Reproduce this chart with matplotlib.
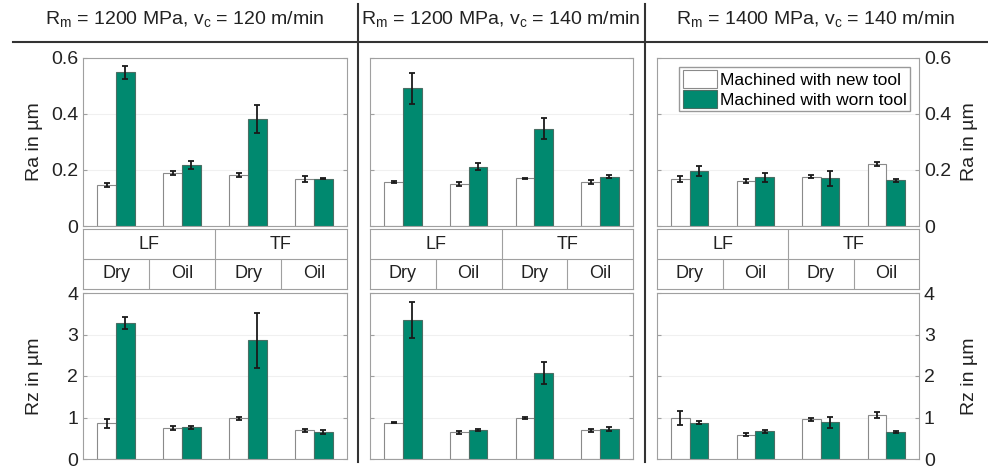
import numpy as np
import matplotlib.pyplot as plt

plt.rcParams['font.family'] = ['Liberation Sans', 'DejaVu Sans']
plt.rcParams['mathtext.fontset'] = 'custom'
plt.rcParams['mathtext.rm'] = 'Liberation Sans'

# data
titles = [r'R$_\mathrm{m}$ = 1200 MPa, v$_\mathrm{c}$ = 120 m/min',
          r'R$_\mathrm{m}$ = 1200 MPa, v$_\mathrm{c}$ = 140 m/min',
          r'R$_\mathrm{m}$ = 1400 MPa, v$_\mathrm{c}$ = 140 m/min']
feeds = ['LF', 'TF']
lubes = ['Dry', 'Oil', 'Dry', 'Oil']

ra_new = [[0.145, 0.188, 0.183, 0.168],
          [0.157, 0.150, 0.171, 0.158],
          [0.167, 0.160, 0.176, 0.221]]
ra_new_err = [[0.007, 0.007, 0.008, 0.010],
              [0.005, 0.008, 0.002, 0.007],
              [0.010, 0.008, 0.005, 0.007]]
ra_worn = [[0.549, 0.218, 0.382, 0.169],
           [0.492, 0.212, 0.348, 0.176],
           [0.196, 0.174, 0.170, 0.163]]
ra_worn_err = [[0.024, 0.015, 0.050, 0.002],
               [0.056, 0.013, 0.038, 0.006],
               [0.019, 0.017, 0.026, 0.005]]

rz_new = [[0.864, 0.744, 0.976, 0.688],
          [0.872, 0.640, 0.984, 0.688],
          [0.992, 0.584, 0.960, 1.056]]
rz_new_err = [[0.108, 0.050, 0.040, 0.040],
              [0.010, 0.040, 0.020, 0.040],
              [0.164, 0.040, 0.040, 0.070]]
rz_worn = [[3.280, 0.768, 2.856, 0.648],
           [3.344, 0.696, 2.072, 0.728],
           [0.872, 0.664, 0.880, 0.656]]
rz_worn_err = [[0.136, 0.035, 0.652, 0.040],
               [0.428, 0.030, 0.276, 0.050],
               [0.040, 0.040, 0.128, 0.030]]

green = '#00896f'
grey = '#a0a0a0'

W, H = 988, 468
fig = plt.figure(figsize=(W / 100, H / 100), dpi=100)


def box(x0, y0, x1, y1):
    return [x0 / W, 1 - y1 / H, (x1 - x0) / W, (y1 - y0) / H]


cols = [(83, 347), (370, 633), (657, 919)]
centers = [185, 501, 816]
x = np.arange(1, 5)
w = 0.285
ekw = dict(elinewidth=1.3, capthick=1.3, ecolor='#1a1a1a')


def style(ax, i, ticks, lim, label):
    ax.set_xlim(0.5, 4.5)
    ax.set_ylim(*lim)
    ax.set_xticks([])
    ax.set_yticks(ticks)
    ax.set_yticklabels([('%g' % t) for t in ticks])
    for s in ax.spines.values():
        s.set_color(grey)
    ax.yaxis.grid(True, color='#f0f0f0', lw=0.8)
    ax.set_axisbelow(True)
    ax.tick_params(axis='y', direction='in', length=3, color=grey,
                   labelsize=14, labelcolor='#222222', left=True, right=True)
    if i == 0:
        ax.tick_params(labelleft=True, labelright=False)
        ax.set_ylabel(label, fontsize=14, color='#222222')
        ax.yaxis.set_label_coords(-0.15, 0.5)
    elif i == 2:
        ax.tick_params(labelleft=False, labelright=True)
        ax.yaxis.set_label_position('right')
        ax.set_ylabel(label, fontsize=14, color='#222222', rotation=90)
        ax.yaxis.set_label_coords(1.16, 0.5)
    else:
        ax.tick_params(labelleft=False, labelright=False)


for i, (x0, x1) in enumerate(cols):
    ax_ra = fig.add_axes(box(x0, 58, x1, 226))
    ax_ra.bar(x - w / 2, ra_new[i], w, yerr=ra_new_err[i], color='white',
              edgecolor='#8a8a8a', lw=0.8, capsize=2.5, error_kw=ekw,
              label='Machined with new tool')
    ax_ra.bar(x + w / 2, ra_worn[i], w, yerr=ra_worn_err[i], color=green,
              edgecolor='#4a6e64', lw=0.8, capsize=2.5, error_kw=ekw,
              label='Machined with worn tool')
    style(ax_ra, i, [0, 0.2, 0.4, 0.6], (0, 0.6), 'Ra in µm')
    if i == 2:
        ax_ra.legend(loc='upper right', fontsize=12.5, frameon=True, fancybox=False,
                     edgecolor='#999999', framealpha=1, borderpad=0.2,
                     handlelength=2.0, handleheight=1.2, handletextpad=0.15,
                     labelspacing=0.12, borderaxespad=0.5)

    # category table under the Ra axes
    ax_t = fig.add_axes(box(x0, 229, x1, 289))
    ax_t.set_xlim(0.5, 4.5)
    ax_t.set_ylim(0, 2)
    ax_t.set_xticks([])
    ax_t.set_yticks([])
    for s in ax_t.spines.values():
        s.set_color(grey)
    ax_t.axhline(1, color=grey, lw=0.8)
    ax_t.vlines([1.5, 3.5], 0, 1, color=grey, lw=0.8)
    ax_t.vlines(2.5, 0, 2, color=grey, lw=0.8)
    for j, f in enumerate(feeds):
        ax_t.text(1.5 + 2 * j, 1.5, f, ha='center', va='center', fontsize=13, color='#222222')
    for j, l in enumerate(lubes):
        ax_t.text(x[j], 0.5, l, ha='center', va='center', fontsize=13, color='#222222')

    ax_rz = fig.add_axes(box(x0, 293, x1, 459))
    ax_rz.bar(x - w / 2, rz_new[i], w, yerr=rz_new_err[i], color='white',
              edgecolor='#8a8a8a', lw=0.8, capsize=2.5, error_kw=ekw)
    ax_rz.bar(x + w / 2, rz_worn[i], w, yerr=rz_worn_err[i], color=green,
              edgecolor='#4a6e64', lw=0.8, capsize=2.5, error_kw=ekw)
    style(ax_rz, i, [0, 1, 2, 3, 4], (0, 4), 'Rz in µm')

    fig.text(centers[i] / W, 1 - 20 / H, titles[i], ha='center', va='center',
             fontsize=14, color='#222222')

# frame lines of the header
fig.add_artist(plt.Line2D([13 / W, 1], [1 - 42 / H] * 2, color='#333333', lw=1.5,
                          transform=fig.transFigure))
for xs in [358, 645]:
    fig.add_artist(plt.Line2D([xs / W] * 2, [1 - 4 / H, 1 - 462 / H], color='#333333',
                              lw=1.5, transform=fig.transFigure))

fig.savefig('out.png', dpi=100)
